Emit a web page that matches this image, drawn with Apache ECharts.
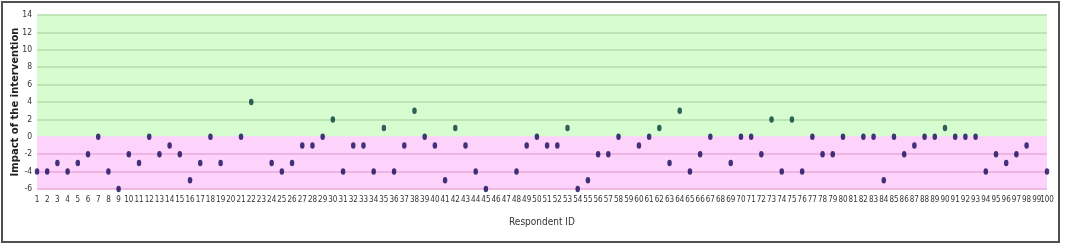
<!DOCTYPE html>
<html>
<head>
<meta charset="utf-8">
<script src="https://cdn.jsdelivr.net/npm/echarts@6/dist/echarts.min.js"></script>
<style>
  html, body { margin: 0; padding: 0; background: #fff; }
  #chart { width: 1065px; height: 248px; }
</style>
</head>
<body>
<div id="chart"></div>
<script>
// respondent ids 1..100
const respondents = [];
for (let i = 1; i <= 100; i++) respondents.push(String(i));

// impact score per respondent, null where no point is plotted
const impact = [
  -4, -4, -3, -4, -3, -2, 0, -4, -6, -2,
  -3, 0, -2, -1, -2, -5, -3, 0, -3, null,
  0, 4, null, -3, -4, -3, -1, -1, 0, 2,
  -4, -1, -1, -4, 1, -4, -1, 3, 0, -1,
  -5, 1, -1, -4, -6, null, null, -4, -1, 0,
  -1, -1, 1, -6, -5, -2, -2, 0, null, -1,
  0, 1, -3, 3, -4, -2, 0, null, -3, 0,
  0, -2, 2, -4, 2, -4, 0, -2, -2, 0,
  null, 0, 0, -5, 0, -2, -1, 0, 0, 1,
  0, 0, 0, -4, -2, -3, -2, -1, null, -4
];

const yTicks = [-6, -4, -2, 0, 2, 4, 6, 8, 10, 12, 14];

const pink = '#fdd2fb', green = '#d6fcd0';
const pinkLine = '#eaa8dc', greenLine = '#b4dcaa';

const chart = echarts.init(document.getElementById('chart'));
chart.setOption({
  animation: false,
  backgroundColor: '#fff',
  textStyle: { fontFamily: 'DejaVu Sans Condensed' },
  graphic: [{
    type: 'rect',
    shape: { x: 2, y: 2, width: 1057, height: 240 },
    style: { fill: 'none', stroke: '#505050', lineWidth: 2 },
    silent: true
  }],
  grid: {
    left: 37, right: 18, top: 15, bottom: 59,
    containLabel: false,
    outerBoundsMode: 'none'
  },
  xAxis: {
    type: 'category',
    data: respondents,
    boundaryGap: false,
    name: 'Respondent ID',
    nameLocation: 'middle',
    nameGap: 28,
    nameMoveOverlap: false,
    nameTextStyle: { fontSize: 10, color: '#333' },
    axisLine: { show: false },
    axisTick: { show: false },
    axisLabel: { interval: 0, fontSize: 8, color: '#333', margin: 7, hideOverlap: false },
    splitLine: { show: false }
  },
  yAxis: {
    type: 'value',
    min: yTicks[0],
    max: yTicks[yTicks.length - 1],
    interval: 2,
    name: 'Impact of the intervention',
    nameLocation: 'middle',
    nameGap: 17,
    nameMoveOverlap: false,
    nameTextStyle: { fontSize: 10, fontWeight: 'bold', color: '#222', fontFamily: 'DejaVu Sans' },
    axisLine: { show: false },
    axisTick: { show: false },
    axisLabel: { fontSize: 8.5, color: '#333', margin: 5 },
    splitArea: {
      show: true,
      areaStyle: {
        color: yTicks.slice(1).map(v => (v <= 0 ? pink : green))
      }
    },
    splitLine: {
      show: true,
      lineStyle: {
        width: 1.5,
        color: yTicks.map(v => (v < 0 ? pinkLine : v === 0 ? pink : greenLine))
      }
    }
  },
  series: [{
    type: 'scatter',
    symbol: 'circle',
    symbolSize: [4.5, 6.5],
    data: impact.map(v => (v === null ? '-' : {
      value: v,
      itemStyle: { color: v > 0 ? '#063a3a' : '#14085a' }
    }))
  }]
});
</script>
</body>
</html>
